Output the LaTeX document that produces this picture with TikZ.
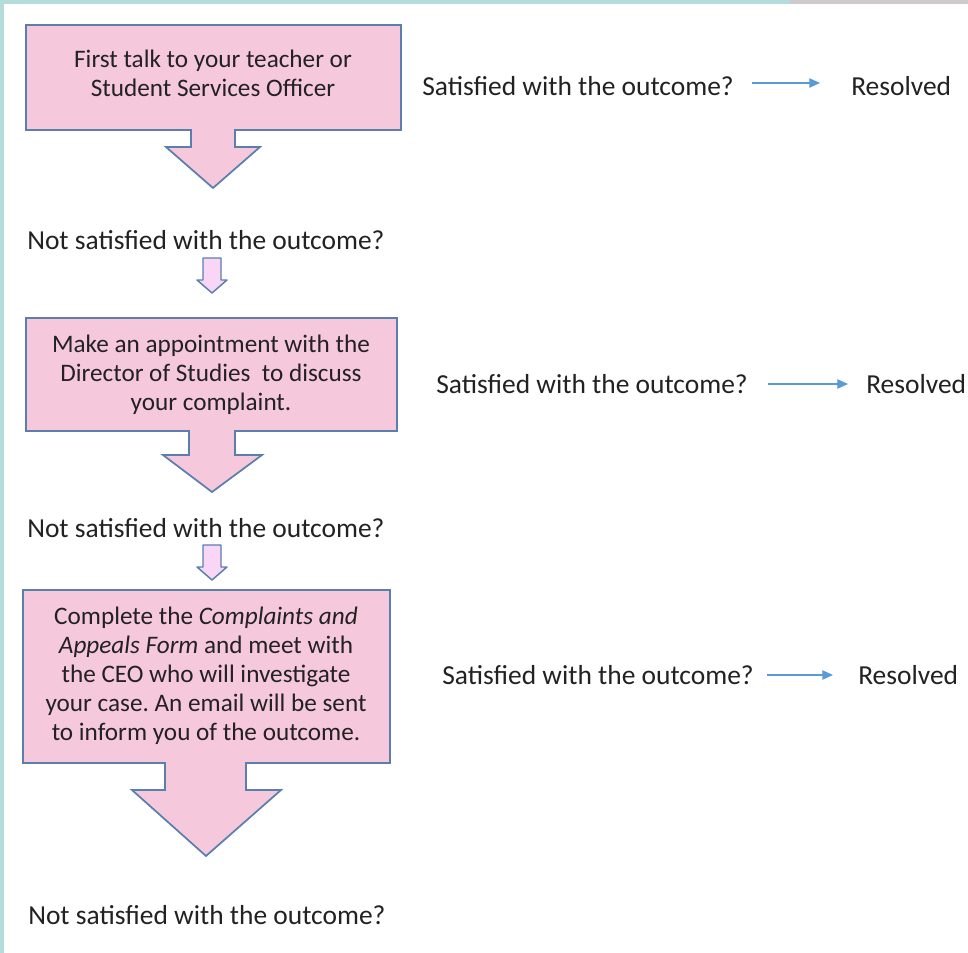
\documentclass[tikz,border=0pt]{standalone}
\usepackage{fontspec}
\setmainfont{Carlito}
\usetikzlibrary{arrows.meta}
\definecolor{boxfill}{HTML}{F6C8DC}
\definecolor{boxline}{HTML}{5A7FAE}
\definecolor{smallfill}{HTML}{F9D6F5}
\definecolor{txt}{HTML}{222222}
\definecolor{teal}{HTML}{B5DCDC}
\definecolor{band}{HTML}{CDC9CD}
\definecolor{conn}{HTML}{5B9BD5}
\tikzset{
  px/.style={x=0.75pt,y=-0.75pt},
  callout/.style={fill=boxfill,draw=boxline,line width=1.3pt,line join=miter},
  smallarrow/.style={fill=smallfill,draw=boxline,line width=1.1pt,line join=round},
  label/.style={font=\fontsize{20.6}{24}\selectfont,text=txt,inner sep=0pt},
  boxtext/.style={font=\fontsize{18.9}{21.8}\selectfont,text=txt,align=center,inner sep=0pt},
  conn/.style={draw=conn,line width=0.9pt,-{Triangle[length=8pt,width=7pt]}},
}
\frenchspacing
\begin{document}
\begin{tikzpicture}[px]
\useasboundingbox (0,0) rectangle (968,953);
\fill[white] (0,0) rectangle (968,953);
\fill[teal] (0,0) rectangle (790,4);
\fill[band] (790,0) rectangle (968,4);
\fill[teal] (0,0) rectangle (4,953);

% box 1
\path[callout] (26,25) -- (401,25) -- (401,130) -- (235,130) -- (235,147) -- (260,147) -- (213,188) -- (166,147) -- (191,147) -- (191,130) -- (26,130) -- cycle;
\node[boxtext] (b1) at (213,73) {First talk to your teacher or\\Student Services Officer};
\node[label,anchor=west] (s1) at (422,86) {Satisfied with the outcome?};
\node[label,anchor=west] (r1) at (851,86) {Resolved};
\coordinate (s1e) at (752,83);
\coordinate (r1w) at (820,83);
\draw[conn] (s1e) -- (r1w);

\node[label,anchor=west] (n1) at (27,240) {Not satisfied with the outcome?};
\path[smallarrow] (203,258) -- (221,258) -- (221,280) -- (227,280) -- (212,293) -- (197,280) -- (203,280) -- cycle;

% box 2
\path[callout] (26,318) -- (397,318) -- (397,431) -- (235,431) -- (235,455) -- (262,455) -- (212,492) -- (163,455) -- (189,455) -- (189,431) -- (26,431) -- cycle;
\node[boxtext] (b2) at (211,375) {Make an appointment with the\\Director of Studies\ \ to discuss\\your complaint.};
\node[label,anchor=west] (s2) at (436,384) {Satisfied with the outcome?};
\node[label,anchor=west] (r2) at (866,384) {Resolved};
\coordinate (s2e) at (768,384);
\coordinate (r2w) at (848,384);
\draw[conn] (s2e) -- (r2w);

\node[label,anchor=west] (n2) at (27,528) {Not satisfied with the outcome?};
\path[smallarrow] (203,545) -- (221,545) -- (221,567) -- (227,567) -- (212,580) -- (197,567) -- (203,567) -- cycle;

% box 3
\path[callout] (23,590) -- (390,590) -- (390,763) -- (246,763) -- (246,790) -- (281,790) -- (206,856) -- (132,790) -- (165,790) -- (165,763) -- (23,763) -- cycle;
\node[boxtext] (b3) at (206,676) {Complete the \textit{Complaints and}\\\textit{Appeals Form} and meet with\\the CEO who will investigate\\your case. An email will be sent\\to inform you of the outcome.};
\node[label,anchor=west] (s3) at (442,675) {Satisfied with the outcome?};
\node[label,anchor=west] (r3) at (858,675) {Resolved};
\coordinate (s3e) at (767,675);
\coordinate (r3w) at (833,675);
\draw[conn] (s3e) -- (r3w);

\node[label,anchor=west] (n3) at (28,915) {Not satisfied with the outcome?};
\end{tikzpicture}
\end{document}
